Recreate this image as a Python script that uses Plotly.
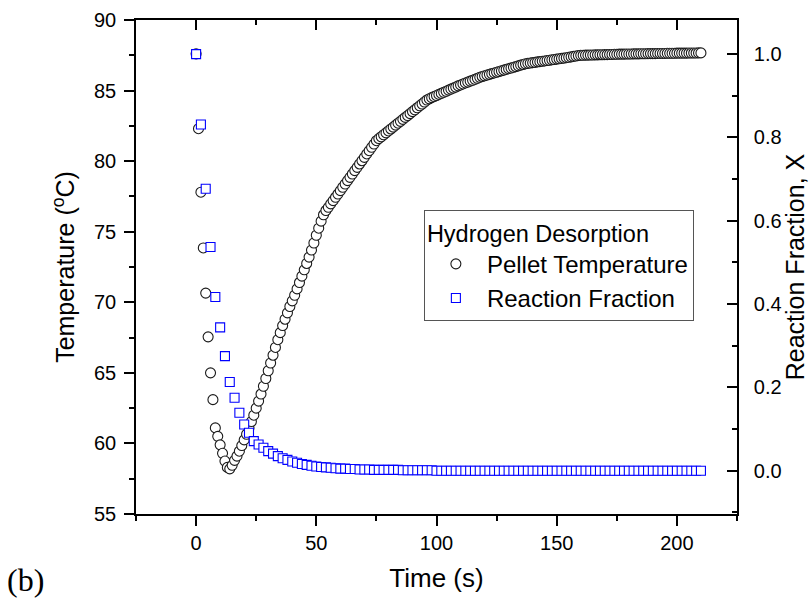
import plotly.graph_objects as go

# ── Data ────────────────────────────────────────────────────────────────────
TIME_T = [
    0, 1, 2, 3, 4, 5, 6, 7, 8, 9, 10, 11, 12, 13, 14, 15, 16, 17, 18, 19,
    20, 21, 22, 23, 24, 25, 26, 27, 28, 29, 30, 31, 32, 33, 34, 35, 36, 37, 38, 39,
    40, 41, 42, 43, 44, 45, 46, 47, 48, 49, 50, 51, 52, 53, 54, 55, 56, 57, 58, 59,
    60, 61, 62, 63, 64, 65, 66, 67, 68, 69, 70, 71, 72, 73, 74, 75, 76, 77, 78, 79,
    80, 81, 82, 83, 84, 85, 86, 87, 88, 89, 90, 91, 92, 93, 94, 95, 96, 97, 98, 99,
    100, 101, 102, 103, 104, 105, 106, 107, 108, 109, 110, 111, 112, 113, 114, 115, 116, 117, 118, 119,
    120, 121, 122, 123, 124, 125, 126, 127, 128, 129, 130, 131, 132, 133, 134, 135, 136, 137, 138, 139,
    140, 141, 142, 143, 144, 145, 146, 147, 148, 149, 150, 151, 152, 153, 154, 155, 156, 157, 158, 159,
    160, 161, 162, 163, 164, 165, 166, 167, 168, 169, 170, 171, 172, 173, 174, 175, 176, 177, 178, 179,
    180, 181, 182, 183, 184, 185, 186, 187, 188, 189, 190, 191, 192, 193, 194, 195, 196, 197, 198, 199,
    200, 201, 202, 203, 204, 205, 206, 207, 208, 209, 210,
]

PELLET_TEMP = [
    87.6, 82.3, 77.8, 73.85, 70.65, 67.55, 65.0, 63.1, 61.1, 60.5,
    59.9, 59.3, 58.75, 58.3, 58.2, 58.45, 58.8, 59.1, 59.45, 59.85,
    60.25, 60.65, 61.1, 61.55, 62.0, 62.5, 63.0, 63.5, 64.05, 64.6,
    65.15, 65.7, 66.25, 66.8, 67.35, 67.85, 68.35, 68.8, 69.25, 69.7,
    70.1, 70.5, 70.95, 71.4, 71.85, 72.3, 72.75, 73.2, 73.7, 74.2,
    74.75, 75.25, 75.75, 76.2, 76.5, 76.73, 76.97, 77.2, 77.44, 77.67,
    77.91, 78.15, 78.38, 78.62, 78.85, 79.09, 79.33, 79.56, 79.8, 80.03,
    80.27, 80.51, 80.74, 80.98, 81.21, 81.45, 81.6, 81.73, 81.87, 82.0,
    82.14, 82.28, 82.41, 82.55, 82.69, 82.82, 82.96, 83.1, 83.23, 83.37,
    83.51, 83.64, 83.78, 83.92, 84.05, 84.19, 84.33, 84.42, 84.5, 84.58,
    84.65, 84.73, 84.8, 84.88, 84.95, 85.03, 85.1, 85.18, 85.25, 85.33,
    85.4, 85.47, 85.54, 85.6, 85.67, 85.73, 85.8, 85.87, 85.94, 86.0,
    86.05, 86.1, 86.15, 86.2, 86.25, 86.3, 86.35, 86.4, 86.45, 86.5,
    86.55, 86.6, 86.65, 86.7, 86.75, 86.8, 86.85, 86.9, 86.93, 86.95,
    86.98, 87.0, 87.03, 87.05, 87.08, 87.1, 87.13, 87.15, 87.18, 87.2,
    87.23, 87.25, 87.28, 87.3, 87.33, 87.36, 87.39, 87.42, 87.45, 87.48,
    87.5, 87.5, 87.51, 87.51, 87.52, 87.52, 87.53, 87.53, 87.54, 87.54,
    87.55, 87.55, 87.56, 87.56, 87.57, 87.57, 87.58, 87.58, 87.58, 87.59,
    87.59, 87.59, 87.6, 87.6, 87.6, 87.61, 87.61, 87.61, 87.62, 87.62,
    87.62, 87.62, 87.63, 87.63, 87.63, 87.63, 87.64, 87.64, 87.64, 87.64,
    87.65, 87.65, 87.65, 87.65, 87.65, 87.66, 87.66, 87.66, 87.66, 87.67, 87.67,
]

TIME_X = [
    0, 2, 4, 6, 8, 10, 12, 14, 16, 18, 20, 22, 24, 26, 28, 30, 32, 34, 36, 38,
    40, 42, 44, 46, 48, 50, 52, 54, 56, 58, 60, 62, 64, 66, 68, 70, 72, 74, 76, 78,
    80, 82, 84, 86, 88, 90, 92, 94, 96, 98, 100, 102, 104, 106, 108, 110, 112, 114, 116, 118,
    120, 122, 124, 126, 128, 130, 132, 134, 136, 138, 140, 142, 144, 146, 148, 150, 152, 154, 156, 158,
    160, 162, 164, 166, 168, 170, 172, 174, 176, 178, 180, 182, 184, 186, 188, 190, 192, 194, 196, 198,
    200, 202, 204, 206, 208, 210,
]

REACTION_X = [
    1.0, 0.831, 0.677, 0.537, 0.417, 0.344, 0.275, 0.213, 0.175, 0.139,
    0.111, 0.091, 0.071, 0.063, 0.055, 0.047, 0.041, 0.035, 0.030, 0.026,
    0.022, 0.019, 0.016, 0.014, 0.012, 0.010, 0.009, 0.008, 0.007, 0.006,
    0.005, 0.005, 0.004, 0.004, 0.003, 0.003, 0.003, 0.002, 0.002, 0.002,
    0.002, 0.002, 0.002, 0.001, 0.001, 0.001, 0.001, 0.001, 0.001, 0.001,
    0.0, 0.0, 0.0, 0.0, 0.0, 0.0, 0.0, 0.0, 0.0, 0.0,
    0.0, 0.0, 0.0, 0.0, 0.0, 0.0, 0.0, 0.0, 0.0, 0.0,
    0.0, 0.0, 0.0, 0.0, 0.0, 0.0, 0.0, 0.0, 0.0, 0.0,
    0.0, 0.0, 0.0, 0.0, 0.0, 0.0, 0.0, 0.0, 0.0, 0.0,
    0.0, 0.0, 0.0, 0.0, 0.0, 0.0, 0.0, 0.0, 0.0, 0.0,
    0.0, 0.0, 0.0, 0.0, 0.0, 0.0,
]

SANS = "Arial, Liberation Sans, sans-serif"
SERIF = "Times New Roman, Liberation Serif, serif"

AXIS_COMMON = dict(
    showline=True, linecolor="black", linewidth=1.6,
    showgrid=False, zeroline=False, automargin=False,
    tickcolor="black", tickwidth=1.6,
)

fig = go.Figure()

fig.add_trace(go.Scatter(
    x=TIME_T, y=PELLET_TEMP,
    mode="markers", name="Pellet Temperature",
    marker=dict(symbol="circle", size=10, color="white",
                line=dict(color="#1a1a1a", width=1.1)),
))

# invisible copy so the top (mirror) axis is drawn
fig.add_trace(go.Scatter(
    x=TIME_T, y=PELLET_TEMP, xaxis="x2",
    mode="markers", marker=dict(opacity=0),
    showlegend=False, hoverinfo="skip",
))

fig.add_trace(go.Scatter(
    x=TIME_X, y=REACTION_X, yaxis="y2",
    mode="markers", name="Reaction Fraction",
    marker=dict(symbol="square", size=9, color="white",
                line=dict(color="#0000ff", width=1.1)),
))

fig.update_layout(
    width=809, height=609,
    margin=dict(l=136, r=72, t=20, b=95),
    paper_bgcolor="white", plot_bgcolor="white",
    font=dict(family=SANS, size=20, color="black"),
    xaxis=dict(
        **AXIS_COMMON,
        range=[-25, 225], tick0=0, dtick=50,
        ticks="outside", ticklen=10,
        minor=dict(dtick=25, ticklen=5, ticks="outside",
                   tickcolor="black", tickwidth=1.6),
        title=dict(text="Time (s)", font=dict(size=26), standoff=16),
    ),
    xaxis2=dict(
        **AXIS_COMMON,
        overlaying="x", side="top", anchor="y",
        range=[-25, 225], tick0=0, dtick=50,
        ticks="inside", ticklen=10, showticklabels=False,
        minor=dict(dtick=25, ticklen=5, ticks="inside",
                   tickcolor="black", tickwidth=1.6),
    ),
    yaxis=dict(
        **AXIS_COMMON,
        range=[55, 90], tick0=55, dtick=5,
        ticks="outside", ticklen=10, ticklabelstandoff=4,
        minor=dict(dtick=2.5, ticklen=5, ticks="outside",
                   tickcolor="black", tickwidth=1.6),
        title=dict(text="Temperature (<sup>o</sup>C)", font=dict(size=25),
                   standoff=12),
    ),
    yaxis2=dict(
        **AXIS_COMMON,
        overlaying="y", side="right", anchor="x",
        range=[-0.104, 1.082], tick0=0, dtick=0.2, tickformat=".1f",
        ticks="inside", ticklen=10, ticklabelstandoff=11,
        minor=dict(dtick=0.1, ticklen=5, ticks="inside",
                   tickcolor="black", tickwidth=1.6),
        title=dict(text="Reaction Fraction, X", font=dict(size=25),
                   standoff=0),
    ),
    legend=dict(
        x=0.479, y=0.615, xanchor="left", yanchor="top",
        bgcolor="white", bordercolor="#555555", borderwidth=1,
        font=dict(size=24),
        title=dict(text="Hydrogen Desorption", font=dict(size=23.5)),
        itemwidth=52, tracegroupgap=0,
    ),
    showlegend=True,
    annotations=[dict(
        text="(b)", xref="paper", yref="paper",
        x=-0.218, y=-0.134, xanchor="left", yanchor="middle",
        showarrow=False, font=dict(family=SERIF, size=32, color="black"),
    )],
)

fig.write_html(
    "out.html",
    config={"displayModeBar": False},
    post_script="document.body.style.margin='0px';",
)
